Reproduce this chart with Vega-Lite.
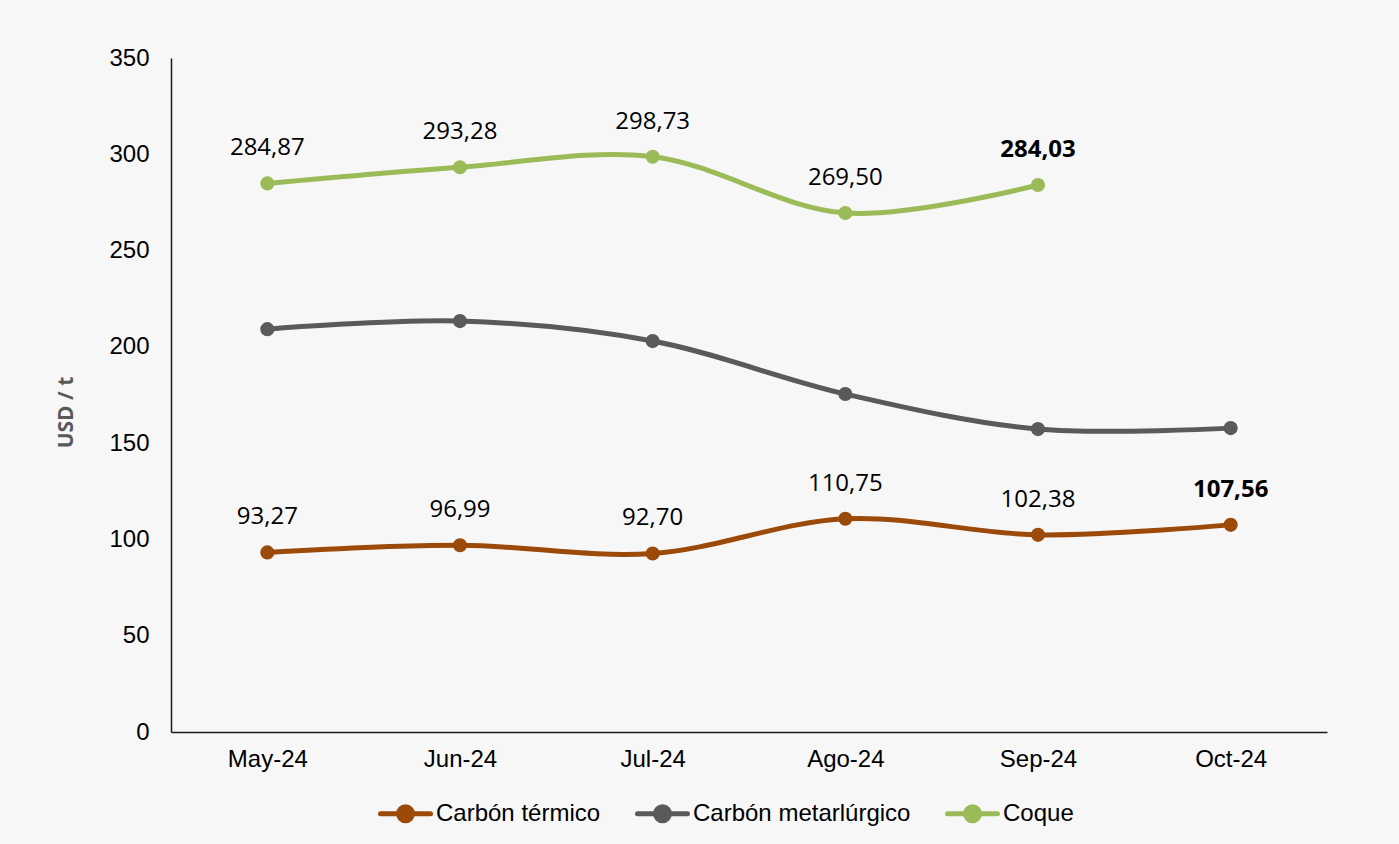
{
  "$schema": "https://vega.github.io/schema/vega-lite/v6.json",
  "autosize": {"type": "none"},
  "width": 1156,
  "height": 674,
  "padding": {"left": 171, "top": 58, "right": 72, "bottom": 112},
  "background": "#f7f7f7",
  "config": {
    "view": {"stroke": null},
    "locale": {"number": {"decimal": ",", "thousands": ".", "grouping": [3], "currency": ["$", ""]}},
    "axis": {"grid": false, "ticks": false, "domainColor": "#1a1a1a", "domainWidth": 1.5, "labelFont": "Liberation Sans", "labelFontSize": 24, "labelColor": "#000000"}
  },
  "data": {"values": [
    {"mes": "May-24", "serie": "Carbón térmico", "valor": 93.27},
    {"mes": "Jun-24", "serie": "Carbón térmico", "valor": 96.99},
    {"mes": "Jul-24", "serie": "Carbón térmico", "valor": 92.70},
    {"mes": "Ago-24", "serie": "Carbón térmico", "valor": 110.75},
    {"mes": "Sep-24", "serie": "Carbón térmico", "valor": 102.38},
    {"mes": "Oct-24", "serie": "Carbón térmico", "valor": 107.56},
    {"mes": "May-24", "serie": "Carbón metarlúrgico", "valor": 209.2},
    {"mes": "Jun-24", "serie": "Carbón metarlúrgico", "valor": 213.4},
    {"mes": "Jul-24", "serie": "Carbón metarlúrgico", "valor": 203.0},
    {"mes": "Ago-24", "serie": "Carbón metarlúrgico", "valor": 175.5},
    {"mes": "Sep-24", "serie": "Carbón metarlúrgico", "valor": 157.3},
    {"mes": "Oct-24", "serie": "Carbón metarlúrgico", "valor": 157.8},
    {"mes": "May-24", "serie": "Coque", "valor": 284.87},
    {"mes": "Jun-24", "serie": "Coque", "valor": 293.28},
    {"mes": "Jul-24", "serie": "Coque", "valor": 298.73},
    {"mes": "Ago-24", "serie": "Coque", "valor": 269.50},
    {"mes": "Sep-24", "serie": "Coque", "valor": 284.03}
  ]},
  "encoding": {
    "x": {"field": "mes", "type": "ordinal", "sort": ["May-24", "Jun-24", "Jul-24", "Ago-24", "Sep-24", "Oct-24"],
          "scale": {"type": "point", "padding": 0.5},
          "axis": {"title": null, "labelAngle": 0, "labelPadding": 15}},
    "y": {"field": "valor", "type": "quantitative", "scale": {"domain": [0, 350], "nice": false},
          "axis": {"title": "USD / t", "values": [0, 50, 100, 150, 200, 250, 300, 350], "labelPadding": 22,
                   "titleFont": "Open Sans", "titleFontSize": 21, "titleFontWeight": "bold", "titleColor": "#595959",
                   "titleX": -105, "titleY": 354, "titleAngle": -90, "titleAlign": "center", "titleBaseline": "middle"}}
  },
  "layer": [
    {
      "mark": {"type": "line", "interpolate": "catmull-rom", "strokeWidth": 5, "strokeCap": "round",
               "point": {"filled": true, "size": 200, "opacity": 1}},
      "encoding": {
        "color": {"field": "serie", "type": "nominal",
                  "scale": {"domain": ["Carbón térmico", "Carbón metarlúrgico", "Coque"], "range": ["#9c4a0a", "#5a5a5a", "#9bbb59"]},
                  "legend": {"title": null, "orient": "none", "legendX": 207, "legendY": 728, "direction": "horizontal",
                             "symbolType": "M-1,0H1M-0.28,0A0.28,0.28 0 1,1 0.28,0A0.28,0.28 0 1,1 -0.28,0Z",
                             "symbolSize": 2500, "symbolStrokeWidth": 5, "symbolOpacity": 1,
                             "labelFont": "Liberation Sans", "labelFontSize": 24, "labelColor": "#000000", "labelLimit": 0,
                             "labelOffset": 3, "columnPadding": 26, "padding": 0,
                             "encode": {"symbols": {"update": {"fill": {"scale": "color", "field": "value"}, "stroke": {"scale": "color", "field": "value"}, "strokeCap": {"value": "round"}}}}}}
      }
    },
    {
      "transform": [{"filter": "datum.serie !== 'Carbón metarlúrgico' && !(datum.mes === 'Oct-24' || (datum.serie === 'Coque' && datum.mes === 'Sep-24'))"}],
      "mark": {"type": "text", "font": "Open Sans", "fontSize": 24, "color": "#000000", "baseline": "middle", "dy": -35},
      "encoding": {
        "text": {"field": "valor", "type": "quantitative", "format": ".2f"}
      }
    },
    {
      "transform": [{"filter": "datum.mes === 'Oct-24' && datum.serie === 'Carbón térmico' || (datum.serie === 'Coque' && datum.mes === 'Sep-24')"}],
      "mark": {"type": "text", "font": "Open Sans", "fontSize": 24, "fontWeight": "bold", "color": "#000000", "baseline": "middle", "dy": -35},
      "encoding": {
        "text": {"field": "valor", "type": "quantitative", "format": ".2f"}
      }
    }
  ]
}
